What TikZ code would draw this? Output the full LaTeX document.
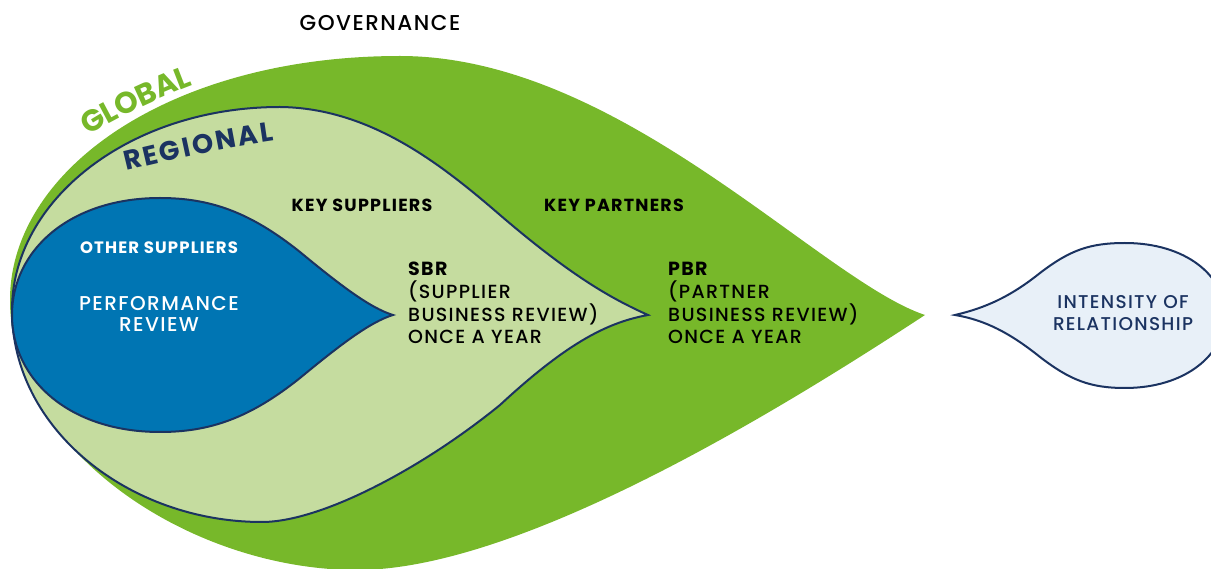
\documentclass[tikz,border=0pt]{standalone}
\usepackage{fontspec}
\IfFontExistsTF{Poppins Medium}
  {\setmainfont{Poppins}[UprightFont=* Medium,BoldFont=* Bold,LetterSpace=7]}
  {\setmainfont{Poppins}[LetterSpace=7,UprightFeatures={FakeBold=0.7}]}
\newfontfamily\arcfont{Poppins}
\usetikzlibrary{decorations.text}
\definecolor{leafgreen}{HTML}{77B82A}
\definecolor{palegreen}{HTML}{C5DC9F}
\definecolor{seablue}{HTML}{0075B3}
\definecolor{navy}{HTML}{1B3361}
\definecolor{mist}{HTML}{E8F0F8}

\begin{document}
\begin{tikzpicture}[x=1pt,y=1pt,
  outline/.style={draw=navy,line width=2pt},
  tag/.style={anchor=base,inner sep=0pt,font=\fontsize{17.5}{17.5}\selectfont\bfseries},
  plain/.style={anchor=base,inner sep=0pt,font=\fontsize{20}{20}\selectfont},
  review/.style={anchor=base west,inner sep=0pt,font=\fontsize{19}{19}\selectfont}]
  \useasboundingbox (0,0) rectangle (1211,568);
  \clip (0,0) rectangle (1211,568);

  % global
  \fill[leafgreen] (925,253) .. controls (820,288) and (620,512) .. (400,512)
    .. controls (170,512) and (10,398) .. (10,268)
    .. controls (10,118) and (190,-2) .. (357,-2)
    .. controls (520,-2) and (780,158) .. (925,253) -- cycle;
  % regional
  \filldraw[palegreen,outline] (648,253) .. controls (610,270) and (570,293) .. (500,353)
    .. controls (441,404) and (370,460) .. (280,461)
    .. controls (130,461) and (12,368) .. (12,258)
    .. controls (12,138) and (130,46) .. (262,46)
    .. controls (320,46) and (420,98) .. (500,163)
    .. controls (570,228) and (610,246) .. (648,253) -- cycle;
  % other suppliers
  \filldraw[seablue,outline] (393,253) .. controls (370,260) and (340,283) .. (300,316)
    .. controls (250,356) and (210,370) .. (160,370)
    .. controls (70,370) and (12,318) .. (12,253)
    .. controls (12,188) and (70,136) .. (160,136)
    .. controls (210,136) and (250,150) .. (300,190)
    .. controls (340,223) and (370,246) .. (393,253) -- cycle;
  % intensity
  \filldraw[mist,outline] (955,253) .. controls (985,260) and (1010,271) .. (1040,295)
    .. controls (1070,318) and (1090,325) .. (1125,325)
    .. controls (1185,325) and (1225,293) .. (1225,253)
    .. controls (1225,213) and (1185,180) .. (1125,180)
    .. controls (1090,180) and (1070,188) .. (1040,211)
    .. controls (1010,235) and (985,248) .. (955,253) -- cycle;

  \path[decorate,decoration={text along path,text align=center,text color=leafgreen,
    text={|\arcfont\fontsize{30}{30}\selectfont\bfseries|GLOBAL}}]
    (86,430) .. controls (104,444) and (160,471) .. (196,484);
  \path[decorate,decoration={text along path,text align=fit to path,text color=navy,
    text={|\arcfont\fontsize{27}{27}\selectfont\bfseries|REGIONAL}}]
    (126,397) .. controls (175,409) and (225,420) .. (274,427);

  \node[plain,font=\fontsize{21.5}{21.5}\selectfont] (gov) at (380,537) {GOVERNANCE};
  \node[tag,text=white,font=\fontsize{16.5}{16.5}\selectfont\bfseries] (other) at (159,314) {OTHER SUPPLIERS};
  \node[plain,text=white] (perf) at (159,257) {PERFORMANCE};
  \node[plain,text=white] (perf2) at (159,236) {REVIEW};
  \node[tag] (keys) at (362,356) {KEY SUPPLIERS};
  \node[tag] (keyp) at (614,356) {KEY PARTNERS};

  \node[review,font=\fontsize{19}{19}\selectfont\bfseries] (sbr) at (408,292) {SBR};
  \foreach \txt [count=\i] in {{(SUPPLIER},{BUSINESS REVIEW)},{ONCE A YEAR}}
    \node[review] (sbr\i) at (408,292-22.6*\i) {\txt};
  \node[review,font=\fontsize{19}{19}\selectfont\bfseries] (pbr) at (668,292) {PBR};
  \foreach \txt [count=\i] in {{(PARTNER},{BUSINESS REVIEW)},{ONCE A YEAR}}
    \node[review] (pbr\i) at (668,292-22.6*\i) {\txt};

  \node[plain,text=navy,font=\fontsize{18.5}{18.5}\selectfont] (ints) at (1123,259) {INTENSITY OF};
  \node[plain,text=navy,font=\fontsize{18.5}{18.5}\selectfont] (ints2) at (1123,237) {RELATIONSHIP};
\end{tikzpicture}
\end{document}
